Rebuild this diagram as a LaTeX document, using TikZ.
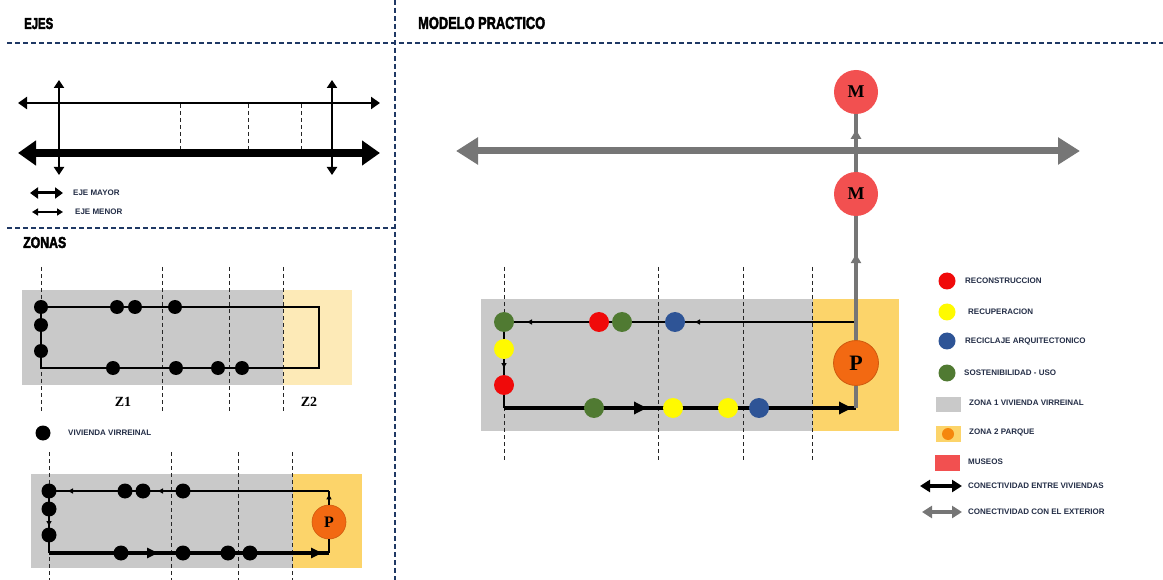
\documentclass[tikz,border=0pt]{standalone}
\usepackage{fontspec}
\usepackage{graphicx}
\setmainfont{Liberation Sans}
\newfontfamily\serifbf{Liberation Serif}
\newfontfamily\titlefont{Liberation Sans}[BoldFeatures={FakeBold=3}]
\usetikzlibrary{arrows.meta,decorations.markings}
\definecolor{navy}{RGB}{31,56,100}
\definecolor{txt}{RGB}{35,45,70}
\definecolor{zgrey}{RGB}{201,201,201}
\definecolor{zlight}{RGB}{253,234,183}
\definecolor{zyellow}{RGB}{252,212,106}
\definecolor{porange}{RGB}{242,105,18}
\definecolor{mred}{RGB}{242,80,80}
\definecolor{dred}{RGB}{240,10,10}
\definecolor{dyellow}{RGB}{255,250,0}
\definecolor{dblue}{RGB}{46,84,150}
\definecolor{dgreen}{RGB}{80,122,50}
\definecolor{agray}{RGB}{118,118,118}
\tikzset{
  sepline/.style={navy, line width=1.8pt, dash pattern=on 5pt off 3pt},
  gridline/.style={black!85, line width=0.9pt, dash pattern=on 4pt off 3pt},
  lbl/.style={text=txt, font=\fontsize{8}{9}\selectfont\bfseries, anchor=west, inner sep=0pt},
  ttl/.style={anchor=west, inner sep=0pt, font=\titlefont\bfseries},
  bdot/.style={circle, fill=black, inner sep=0pt, minimum size=14pt},
  cdot/.style={circle, inner sep=0pt, minimum size=20pt},
  ldot/.style={circle, inner sep=0pt, minimum size=17pt},
  mcirc/.style={circle, fill=mred, inner sep=0pt, minimum size=44pt, font=\serifbf\bfseries\fontsize{18}{18}\selectfont},
  pcirc/.style={circle, fill=porange, draw=porange!85!black, line width=0.8pt, inner sep=0pt, minimum size=45pt, font=\serifbf\bfseries\fontsize{22}{22}\selectfont},
  spcirc/.style={circle, fill=porange, draw=porange!85!black, line width=0.6pt, inner sep=0pt, minimum size=34pt, font=\serifbf\bfseries\fontsize{16}{16}\selectfont},
  zlbl/.style={inner sep=0pt, font=\serifbf\bfseries\fontsize{14}{14}\selectfont},
  thinblack/.style={black, line width=1.5pt},
  thickblack/.style={black, line width=4pt},
  gline/.style={agray, line width=4pt},
  sa/.tip={Triangle[length=5pt,width=5pt]},
  ba/.tip={Triangle[length=13pt,width=12pt]},
  zba/.tip={Triangle[length=11pt,width=10pt]},
  ga/.tip={Triangle[length=9pt,width=10pt]},
}
\begin{document}
\begin{tikzpicture}[x=1pt,y=-1pt]
\useasboundingbox (0,0) rectangle (1163,580);

% ---------- separators
\draw[sepline] (7,43) -- (1163,43);
\draw[sepline] (395,0) -- (395,580);
\draw[sepline] (7,228) -- (395,228);

% ---------- titles
\node[ttl] (tEjes) at (24,23.5) {\resizebox{29pt}{11pt}{\titlefont\bfseries EJES}};
\node[ttl] (tModelo) at (418,23) {\resizebox{127pt}{12pt}{\titlefont\bfseries MODELO PRACTICO}};
\node[ttl] (tZonas) at (23,242.5) {\resizebox{43pt}{11pt}{\titlefont\bfseries ZONAS}};

% ---------- EJES
\coordinate (e1l) at (18,103); \coordinate (e1r) at (380,103);
\coordinate (e2l) at (18,153); \coordinate (e2r) at (380,153);
\coordinate (v1t) at (59,80);  \coordinate (v1b) at (59,175);
\coordinate (v2t) at (332,80); \coordinate (v2b) at (332,175);
\foreach \x [count=\i] in {180,248,301}{
  \coordinate (ed\i t) at (\x,104); \coordinate (ed\i b) at (\x,150);
  \draw[gridline] (ed\i t) -- (ed\i b);
}
\draw[line width=2.5pt, {Triangle[length=9pt,width=12pt]}-{Triangle[length=9pt,width=12pt]}] (e1l) -- (e1r);
\draw[line width=8pt, {Triangle[length=18pt,width=24pt]}-{Triangle[length=18pt,width=24pt]}] (e2l) -- (e2r);
\draw[line width=2.5pt, {Triangle[length=8pt,width=10pt]}-{Triangle[length=8pt,width=10pt]}] (v1t) -- (v1b);
\draw[line width=2.5pt, {Triangle[length=8pt,width=10pt]}-{Triangle[length=8pt,width=10pt]}] (v2t) -- (v2b);
% legend
\coordinate (lm1) at (30,193); \coordinate (lm2) at (63,193);
\coordinate (ln1) at (32,212); \coordinate (ln2) at (63,212);
\draw[line width=3pt, {Triangle[length=8pt,width=11pt]}-{Triangle[length=8pt,width=11pt]}] (lm1) -- (lm2);
\draw[line width=1.6pt, {Triangle[length=6pt,width=7pt]}-{Triangle[length=6pt,width=7pt]}] (ln1) -- (ln2);
\node[lbl] (tMayor) at (73,193) {EJE MAYOR};
\node[lbl] (tMenor) at (75,212) {EJE MENOR};

% ---------- ZONAS 1
\fill[zgrey] (22,290) rectangle (283,385);
\fill[zlight] (283,290) rectangle (352,385);
\foreach \x [count=\i] in {41,162,229,283}{
  \coordinate (za\i t) at (\x,267); \coordinate (za\i b) at (\x,412);
  \draw[gridline] (za\i t) -- (za\i b);
}
\coordinate (z1tl) at (41,307); \coordinate (z1br) at (319,368);
\draw[thinblack] (z1tl) rectangle (z1br);
\foreach \x [count=\i] in {41,117,135,175}{ \node[bdot] (za\i) at (\x,307) {}; }
\node[bdot] (zl1) at (41,325) {};
\node[bdot] (zl2) at (41,351) {};
\foreach \x [count=\i] in {113,176,218,242}{ \node[bdot] (zb\i) at (\x,368) {}; }
\node[zlbl] (tZ1) at (123,402) {Z1};
\node[zlbl] (tZ2) at (309,402) {Z2};

% legend
\node[bdot, minimum size=15pt] (vvdot) at (43,433) {};
\node[lbl] (tVV) at (68,433) {VIVIENDA VIRREINAL};

% ---------- ZONAS 2
\fill[zgrey] (31,474) rectangle (293,568);
\fill[zyellow] (293,474) rectangle (362,568);
\foreach \x [count=\i] in {49,171,238,292}{
  \coordinate (zc\i t) at (\x,452); \coordinate (zc\i b) at (\x,580);
  \draw[gridline] (zc\i t) -- (zc\i b);
}
\coordinate (z2tr) at (329,491); \coordinate (z2tl) at (49,491);
\coordinate (z2bl) at (49,553);  \coordinate (z2br) at (329,553);
\node[spcirc] (P1) at (329,522) {P};
\draw[thinblack, postaction={decorate}, decoration={markings,
   mark=at position 171pt with {\arrow{sa}}, mark=at position 261pt with {\arrow{sa}}}] (z2tr) -- (z2tl);
\draw[thinblack, postaction={decorate}, decoration={markings,
   mark=at position 35pt with {\arrow{sa}}}] (z2tl) -- (z2bl);
\draw[thickblack, postaction={decorate}, decoration={markings,
   mark=at position 109pt with {\arrow{zba}}, mark=at position 273pt with {\arrow{zba}}}] (z2bl) -- (z2br);
\draw[thinblack] (z2br) -- (P1.south);
\draw[thinblack, postaction={decorate}, decoration={markings,
   mark=at position 0.75 with {\arrow{sa}}}] (P1.north) -- (z2tr);
\foreach \x [count=\i] in {49,125,143,183}{ \node[bdot, minimum size=15pt] (zt\i) at (\x,491) {}; }
\node[bdot, minimum size=15pt] (zm1) at (49,509) {};
\node[bdot, minimum size=15pt] (zm2) at (49,535) {};
\foreach \x [count=\i] in {121,183,228,250}{ \node[bdot, minimum size=15pt] (zd\i) at (\x,553) {}; }

% ---------- MODELO PRACTICO
\fill[zgrey] (481,299) rectangle (813,431);
\fill[zyellow] (813,299) rectangle (899,431);
\foreach \x [count=\i] in {504,658,743,812}{
  \coordinate (md\i t) at (\x,267); \coordinate (md\i b) at (\x,460);
  \draw[gridline] (md\i t) -- (md\i b);
}
\coordinate (mtr) at (856,322); \coordinate (mtl) at (504,322);
\coordinate (mbl) at (504,408); \coordinate (mbr) at (856,408);
\node[pcirc] (P2) at (856,363) {P};
\node[mcirc] (M1) at (856,194) {M};
\node[mcirc] (M2) at (856,92) {M};
% horizontal exterior axis
\coordinate (hxl) at (456,151); \coordinate (hxr) at (1080,151);
\draw[agray, line width=7pt, {Triangle[length=22pt,width=26pt]}-{Triangle[length=22pt,width=26pt]}] (hxl) -- (hxr);
% black loop
\draw[thinblack, postaction={decorate}, decoration={markings,
   mark=at position 161pt with {\arrow{sa}}, mark=at position 329pt with {\arrow{sa}}}] (mtr) -- (mtl);
\draw[thinblack, postaction={decorate}, decoration={markings,
   mark=at position 46pt with {\arrow{sa}}}] (mtl) -- (mbl);
\draw[thickblack, postaction={decorate}, decoration={markings,
   mark=at position 143pt with {\arrow{ba}}, mark=at position 348pt with {\arrow{ba}}}] (mbl) -- (mbr);
% grey connections
\draw[gline] (mbr) -- (P2.south);
\draw[gline, postaction={decorate}, decoration={markings,
   mark=at position 86pt with {\arrow{ga}}}] (P2.north) -- (M1.south);
\draw[gline, postaction={decorate}, decoration={markings,
   mark=at position 42pt with {\arrow{ga}}}] (M1.north) -- (M2.south);
% coloured dots
\node[cdot, fill=dgreen] (c1) at (504,322) {};
\node[cdot, fill=dred] (c2) at (599,322) {};
\node[cdot, fill=dgreen] (c3) at (622,322) {};
\node[cdot, fill=dblue] (c4) at (675,322) {};
\node[cdot, fill=dyellow] (c5) at (504,349) {};
\node[cdot, fill=dred] (c6) at (504,385) {};
\node[cdot, fill=dgreen] (c7) at (594,408) {};
\node[cdot, fill=dyellow] (c8) at (673,408) {};
\node[cdot, fill=dyellow] (c9) at (728,408) {};
\node[cdot, fill=dblue] (c10) at (759,408) {};

% ---------- legend
\node[ldot, fill=dred] (lg1) at (947,281) {};
\node[lbl] (tg1) at (965,281) {RECONSTRUCCION};
\node[ldot, fill=dyellow] (lg2) at (947,312) {};
\node[lbl] (tg2) at (968,312) {RECUPERACION};
\node[ldot, fill=dblue] (lg3) at (947,341) {};
\node[lbl] (tg3) at (965,341) {RECICLAJE ARQUITECTONICO};
\node[ldot, fill=dgreen] (lg4) at (947,373) {};
\node[lbl] (tg4) at (964,373) {SOSTENIBILIDAD - USO};
\node[fill=zgrey, minimum width=25pt, minimum height=15pt, inner sep=0pt] (lg5) at (948.5,404.5) {};
\node[lbl] (tg5) at (969,403) {ZONA 1 VIVIENDA VIRREINAL};
\node[fill=zyellow, minimum width=25pt, minimum height=16pt, inner sep=0pt] (lg6) at (948.5,434) {};
\node[circle, fill=porange!80!yellow, minimum size=12pt, inner sep=0pt] (lg6d) at (948,434) {};
\node[lbl] (tg6) at (969,432) {ZONA 2 PARQUE};
\node[fill=mred, minimum width=25pt, minimum height=16pt, inner sep=0pt] (lg7) at (947.5,463) {};
\node[lbl] (tg7) at (968,462) {MUSEOS};
\coordinate (la1) at (920,486); \coordinate (la2) at (962,486);
\coordinate (lb1) at (922,512); \coordinate (lb2) at (962,512);
\draw[black, line width=3.5pt, {Triangle[length=10pt,width=12pt]}-{Triangle[length=10pt,width=12pt]}] (la1) -- (la2);
\draw[agray, line width=3.5pt, {Triangle[length=10pt,width=12pt]}-{Triangle[length=10pt,width=12pt]}] (lb1) -- (lb2);
\node[lbl] (tg8) at (968,486) {CONECTIVIDAD ENTRE VIVIENDAS};
\node[lbl] (tg9) at (968,512) {CONECTIVIDAD CON EL EXTERIOR};
\end{tikzpicture}
\end{document}
